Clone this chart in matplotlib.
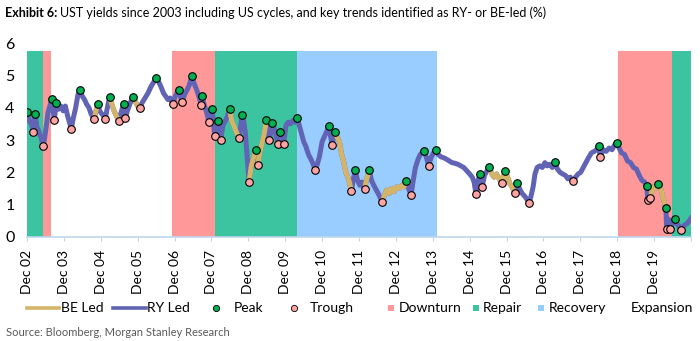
import numpy as np
import matplotlib.pyplot as plt
from matplotlib.lines import Line2D

plt.rcParams['font.family'] = ['Lato', 'DejaVu Sans']

# x values are years after Dec 2002
START = 2002.92

line_t = [
    0.00, 0.04, 0.08, 0.12, 0.17, 0.22, 0.27, 0.31, 0.35, 0.39, 0.43, 0.47, 0.52, 0.57, 0.62, 0.67,
    0.74, 0.79, 0.85, 0.92, 0.98, 1.04, 1.10, 1.15, 1.20, 1.26, 1.32, 1.38, 1.45, 1.50, 1.56, 1.62,
    1.68, 1.74, 1.82, 1.87, 1.92, 1.97, 2.03, 2.08, 2.12, 2.17, 2.24, 2.30, 2.36, 2.42, 2.49, 2.55,
    2.62, 2.67, 2.72, 2.80, 2.87, 2.93, 3.00, 3.06, 3.12, 3.20, 3.28, 3.36, 3.44, 3.51, 3.57, 3.63,
    3.70, 3.76, 3.82, 3.88, 3.95, 4.02, 4.11, 4.20, 4.27, 4.34, 4.40, 4.47, 4.53, 4.60, 4.66, 4.72,
    4.74, 4.80, 4.87, 4.93, 5.02, 5.09, 5.14, 5.19, 5.25, 5.31, 5.38, 5.44, 5.49, 5.55, 5.62, 5.69,
    5.75, 5.80, 5.84, 5.88, 5.92, 5.96, 6.02, 6.08, 6.14, 6.21, 6.25, 6.31, 6.37, 6.43, 6.49, 6.53,
    6.57, 6.61, 6.65, 6.72, 6.77, 6.81, 6.87, 6.96, 7.02, 7.08, 7.14, 7.20, 7.26, 7.31, 7.37, 7.43,
    7.50, 7.56, 7.63, 7.70, 7.76, 7.81, 7.87, 7.93, 8.00, 8.06, 8.12, 8.18, 8.27, 8.34, 8.40, 8.47,
    8.52, 8.58, 8.64, 8.70, 8.75, 8.79, 8.85, 8.90, 8.96, 9.02, 9.08, 9.15, 9.21, 9.28, 9.34, 9.40,
    9.47, 9.54, 9.63, 9.69, 9.75, 9.82, 9.88, 9.95, 10.02, 10.09, 10.16, 10.22, 10.27, 10.34, 10.41, 10.47,
    10.53, 10.60, 10.66, 10.76, 10.83, 10.89, 10.95, 11.02, 11.08, 11.15, 11.22, 11.30, 11.38, 11.45, 11.52, 11.60,
    11.68, 11.76, 11.84, 11.92, 12.00, 12.07, 12.12, 12.17, 12.22, 12.27, 12.34, 12.40, 12.47, 12.53, 12.60, 12.66,
    12.73, 12.80, 12.87, 12.96, 13.03, 13.09, 13.15, 13.22, 13.29, 13.35, 13.42, 13.50, 13.56, 13.61, 13.66, 13.72,
    13.77, 13.83, 13.90, 13.97, 14.04, 14.10, 14.17, 14.24, 14.31, 14.38, 14.45, 14.52, 14.60, 14.66, 14.73, 14.80,
    14.87, 14.94, 15.01, 15.08, 15.15, 15.22, 15.30, 15.38, 15.44, 15.50, 15.54, 15.62, 15.70, 15.78, 15.86, 15.93,
    15.99, 16.05, 16.12, 16.20, 16.28, 16.36, 16.44, 16.52, 16.60, 16.67, 16.74, 16.80, 16.83, 16.90, 16.96, 17.04,
    17.11, 17.18, 17.25, 17.32, 17.34, 17.39, 17.44, 17.50, 17.56, 17.62, 17.67, 17.72, 17.80, 17.88, 17.95, 18.00,
]
line_val = [
    3.86, 3.70, 3.55, 3.50, 3.25, 3.80, 3.40, 3.30, 3.15, 3.05, 2.80, 3.00, 3.40, 3.85, 4.05, 4.27,
    3.61, 4.14, 3.95, 4.05, 3.90, 4.05, 3.75, 3.55, 3.35, 3.70, 4.00, 4.40, 4.55, 4.35, 4.25, 4.10,
    4.00, 3.80, 3.65, 3.90, 4.10, 3.90, 3.80, 3.75, 3.65, 3.95, 4.33, 4.10, 3.90, 3.75, 3.59, 3.85,
    4.11, 3.69, 3.90, 4.15, 4.34, 4.20, 4.05, 4.00, 4.15, 4.30, 4.45, 4.65, 4.80, 4.92, 4.80, 4.65,
    4.45, 4.35, 4.25, 4.30, 4.11, 4.35, 4.56, 4.17, 4.40, 4.55, 4.70, 4.99, 4.75, 4.55, 4.35, 4.08,
    4.37, 4.10, 3.85, 3.55, 3.95, 3.12, 3.40, 3.58, 2.99, 3.45, 3.60, 3.75, 3.95, 3.60, 3.40, 3.20,
    3.07, 3.50, 3.77, 3.55, 3.20, 2.60, 1.70, 2.20, 2.45, 2.70, 2.23, 2.60, 2.90, 3.20, 3.62, 3.30,
    2.99, 3.25, 3.53, 3.30, 3.05, 2.87, 3.24, 2.89, 3.45, 3.55, 3.50, 3.60, 3.55, 3.67, 3.50, 3.25,
    2.95, 2.80, 2.55, 2.40, 2.25, 2.07, 2.25, 2.50, 2.95, 3.10, 3.25, 3.43, 2.85, 3.25, 3.10, 2.95,
    2.60, 2.35, 2.00, 1.85, 1.65, 1.41, 1.80, 2.07, 1.75, 1.60, 1.70, 1.49, 1.80, 2.06, 1.75, 1.60,
    1.45, 1.30, 1.08, 1.30, 1.45, 1.35, 1.50, 1.40, 1.55, 1.50, 1.60, 1.55, 1.74, 1.50, 1.31, 1.75,
    2.15, 2.40, 2.55, 2.67, 2.45, 2.19, 2.45, 2.60, 2.68, 2.55, 2.48, 2.45, 2.40, 2.35, 2.30, 2.28,
    2.25, 2.20, 2.15, 2.05, 1.95, 1.85, 1.70, 1.33, 1.70, 1.94, 1.55, 1.90, 2.05, 2.18, 1.95, 1.85,
    1.95, 1.80, 1.67, 2.03, 1.85, 1.65, 1.55, 1.36, 1.67, 1.50, 1.35, 1.25, 1.15, 1.05, 1.25, 1.55,
    1.95, 2.15, 2.20, 2.15, 2.30, 2.20, 2.25, 2.15, 2.31, 2.10, 2.00, 1.95, 1.90, 1.80, 1.85, 1.73,
    1.85, 1.95, 2.00, 2.15, 2.30, 2.45, 2.60, 2.65, 2.70, 2.82, 2.48, 2.70, 2.65, 2.75, 2.70, 2.85,
    2.92, 2.75, 2.60, 2.55, 2.35, 2.30, 2.15, 2.10, 1.90, 1.75, 1.70, 1.58, 1.14, 1.22, 1.55, 1.50,
    1.63, 1.50, 1.20, 0.89, 0.24, 0.55, 0.26, 0.40, 0.57, 0.40, 0.35, 0.21, 0.35, 0.40, 0.50, 0.58,
]

# stretches where breakevens led the move
be_start = [1.82, 2.24, 2.87, 5.49, 6.02, 6.25, 8.34, 9.15, 9.63, 12.53, 16.90]
be_end = [1.92, 2.49, 3.06, 5.75, 6.21, 6.49, 8.79, 9.28, 10.27, 13.22, 17.32]

peak_t = [0.00, 0.22, 0.67, 0.79, 1.45, 1.92, 2.24, 2.62, 2.87, 3.51, 4.11, 4.47, 4.74, 5.02,
          5.19, 5.49, 5.84, 6.21, 6.49, 6.65, 6.87, 7.31, 8.18, 8.34, 8.90, 9.28, 10.27, 10.76,
          11.08, 12.27, 12.53, 12.96, 13.29, 14.31, 15.50, 15.99, 16.80, 17.11, 17.32, 17.56]
peak_val = [3.86, 3.80, 4.27, 4.14, 4.55, 4.10, 4.33, 4.11, 4.34, 4.92, 4.56, 4.99, 4.37, 3.95,
            3.58, 3.95, 3.77, 2.70, 3.62, 3.53, 3.24, 3.67, 3.43, 3.25, 2.07, 2.06, 1.74, 2.67,
            2.68, 1.94, 2.18, 2.03, 1.67, 2.31, 2.82, 2.92, 1.58, 1.63, 0.89, 0.57]

trough_t = [0.17, 0.43, 0.74, 1.20, 1.82, 2.12, 2.49, 2.67, 3.06, 3.95, 4.20, 4.72, 4.93, 5.09,
            5.25, 5.75, 6.02, 6.25, 6.57, 6.81, 6.96, 7.81, 8.27, 8.79, 9.15, 9.63, 10.41, 10.89,
            12.17, 12.34, 12.87, 13.22, 13.61, 14.80, 15.54, 16.83, 16.90, 17.34, 17.44, 17.72]
trough_val = [3.25, 2.80, 3.61, 3.35, 3.65, 3.65, 3.59, 3.69, 4.00, 4.11, 4.17, 4.08, 3.55, 3.12,
              2.99, 3.07, 1.70, 2.23, 2.99, 2.87, 2.89, 2.07, 2.85, 1.41, 1.49, 1.08, 1.31, 2.19,
              1.33, 1.55, 1.67, 1.36, 1.05, 1.73, 2.48, 1.14, 1.22, 0.24, 0.26, 0.21]

# cycle phases (start, end in years after Dec 02)
phase_start = [0.00, 0.43, 3.93, 5.09, 7.32, 16.02, 17.48]
phase_end = [0.43, 0.65, 5.09, 7.32, 11.11, 17.48, 18.00]
phase_name = ['Repair', 'Downturn', 'Downturn', 'Repair', 'Recovery', 'Downturn', 'Repair']

tick_labels = ['Dec %02d' % (y % 100) for y in range(2002, 2020)]

phase_colors = {'Downturn': '#FF9999', 'Repair': '#3CC3A0', 'Recovery': '#99CCFF',
                'Expansion': '#FFFFFF'}
ry_color = '#6164B4'
be_color = '#D3B468'
peak_color = '#00B050'
trough_color = '#FFA3A3'

W, H = 700, 341
fig = plt.figure(figsize=(W / 100, H / 100), dpi=100)
ax = fig.add_axes([27 / W, 1 - 237 / H, 664 / W, 194 / H])

for s, e, name in zip(phase_start, phase_end, phase_name):
    ax.axvspan(START + s, START + e, ymin=0, ymax=5.75 / 6, color=phase_colors[name], lw=0, zorder=1)

t = np.array(line_t)
v = np.array(line_val)
ax.plot(START + t, v, color=ry_color, lw=3.6, solid_joinstyle='round', zorder=3)
for s, e in zip(be_start, be_end):
    m = (t >= s - 1e-6) & (t <= e + 1e-6)
    ax.plot(START + t[m], v[m], color=be_color, lw=3.6, solid_joinstyle='round',
            solid_capstyle='round', zorder=4)

ax.scatter(START + np.array(peak_t), peak_val, s=30, color=peak_color, edgecolor='black',
           linewidth=0.8, zorder=5)
ax.scatter(START + np.array(trough_t), trough_val, s=30, color=trough_color, edgecolor='black',
           linewidth=0.8, zorder=5)

ax.set_xlim(START, START + 18)
ax.set_ylim(0, 6)
ax.set_yticks(range(7))
ax.set_xticks(START + np.arange(19))
ax.set_xticklabels(tick_labels + [''], rotation=90)
ax.tick_params(axis='y', length=0, labelsize=11.5, pad=9)
ax.tick_params(axis='x', length=3, color='#BDD7EE', labelsize=10, pad=6)
for sp in ['left', 'top', 'right']:
    ax.spines[sp].set_visible(False)
ax.spines['bottom'].set_color('#BDD7EE')
ax.spines['bottom'].set_linewidth(1.2)


# legend drawn by hand (pixel layout of the original)
def px(x, y):
    return x / W, 1 - y / H


ly = 308
for x0, x1, col in [(27, 59, be_color), (113, 146, ry_color)]:
    (a, b), (c, d) = px(x0, ly), px(x1, ly)
    fig.add_artist(Line2D([a, c], [b, d], color=col, lw=2.6, transform=fig.transFigure))
for x0, col in [(216, peak_color), (294, trough_color)]:
    a, b = px(x0, ly)
    fig.add_artist(Line2D([a], [b], marker='o', ms=4.5, color=col, mec='black', mew=0.6,
                          transform=fig.transFigure))
for x0, name in [(391, 'Downturn'), (476, 'Repair'), (541, 'Recovery'), (622, 'Expansion')]:
    a, b = px(x0, ly)
    fig.add_artist(Line2D([a], [b], marker='s', ms=5, color=phase_colors[name], mew=0,
                          transform=fig.transFigure))
for x0, lab in [(61, 'BE Led'), (147, 'RY Led'), (234, 'Peak'), (310, 'Trough'),
                (399, 'Downturn'), (483, 'Repair'), (549, 'Recovery'), (631, 'Expansion')]:
    a, b = px(x0, ly)
    fig.text(a, b, lab, fontsize=10, va='center', ha='left')

a, b = px(6, 332)
fig.text(a, b, 'Source: Bloomberg, Morgan Stanley Research', fontsize=8, color='#595959',
         va='center')

a, b = px(5, 13)
t1 = fig.text(a, b, 'Exhibit 6:', fontsize=9, fontweight='bold', va='center')
fig.canvas.draw()
bb = t1.get_window_extent().transformed(fig.transFigure.inverted())
fig.text(bb.x1 + 0.004, b,
         'UST yields since 2003 including US cycles, and key trends identified as RY- or BE-led (%)',
         fontsize=9, va='center')

fig.savefig('out.png', dpi=100)
